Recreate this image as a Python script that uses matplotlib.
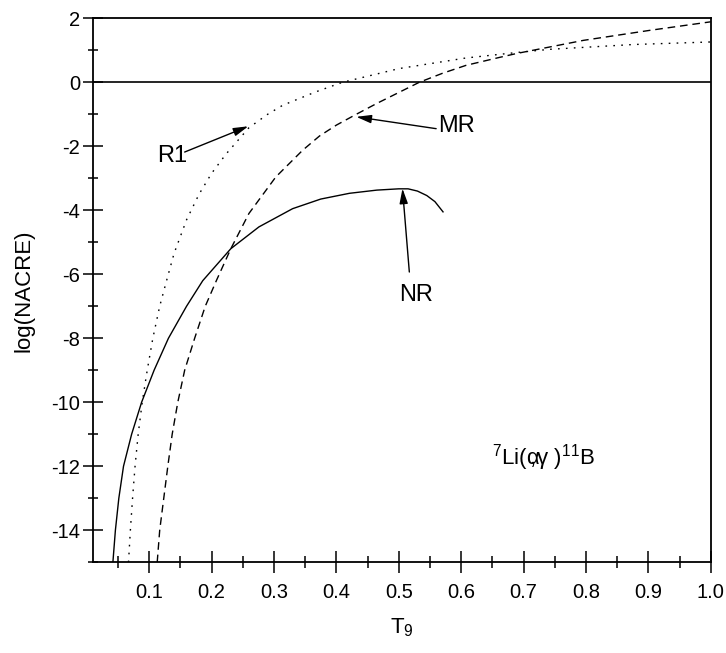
import numpy as np
import matplotlib
matplotlib.use("Agg")
import matplotlib.pyplot as plt
from matplotlib.ticker import MultipleLocator

plt.rcParams['font.family'] = ['Liberation Sans', 'DejaVu Sans']
plt.rcParams['mathtext.fontset'] = 'custom'
plt.rcParams['mathtext.rm'] = 'Liberation Sans'
plt.rcParams['mathtext.it'] = 'Liberation Sans'
plt.rcParams['axes.unicode_minus'] = False

# NR curve (solid)
nr_t9 = [0.042, 0.046, 0.0515, 0.059, 0.072, 0.088, 0.108, 0.131, 0.160, 0.186,
         0.231, 0.276, 0.330, 0.375, 0.421, 0.465, 0.500, 0.515, 0.530, 0.545, 0.558, 0.571]
nr_log = [-15.0, -14.0, -13.0, -12.0, -11.0, -10.0, -9.0, -8.0, -7.0, -6.2,
          -5.2, -4.52, -3.95, -3.65, -3.47, -3.37, -3.33, -3.33, -3.40, -3.54, -3.73, -4.05]

# R1 curve (dotted)
r1_t9 = [0.067, 0.070, 0.0735, 0.0775, 0.0825, 0.089, 0.097, 0.106, 0.117, 0.128,
         0.140, 0.160, 0.180, 0.200, 0.223, 0.260, 0.290, 0.314, 0.367, 0.410,
         0.501, 0.608, 0.689, 0.742, 0.876, 1.0]
r1_log = [-15.0, -14.0, -13.0, -12.0, -11.0, -10.0, -9.0, -8.0, -7.0, -6.2,
          -5.35, -4.3, -3.5, -2.85, -2.25, -1.42, -1.0, -0.72, -0.30, 0.0,
          0.43, 0.76, 0.93, 1.03, 1.18, 1.26]

# MR curve (dashed)
mr_t9 = [0.113, 0.117, 0.130, 0.137, 0.146, 0.157, 0.173, 0.190, 0.208, 0.231,
         0.260, 0.303, 0.346, 0.373, 0.400, 0.432, 0.465, 0.500, 0.533, 0.570,
         0.608, 0.662, 0.689, 0.796, 0.903, 1.0]
mr_log = [-15.0, -14.0, -12.0, -11.0, -10.0, -9.0, -8.0, -7.0, -6.19, -5.2,
          -4.10, -2.96, -2.125, -1.68, -1.34, -1.00, -0.66, -0.32, 0.0, 0.28,
          0.53, 0.78, 0.90, 1.31, 1.625, 1.89]

x_ticks = [0.1, 0.2, 0.3, 0.4, 0.5, 0.6, 0.7, 0.8, 0.9, 1.0]
y_ticks = [-14, -12, -10, -8, -6, -4, -2, 0, 2]

fig = plt.figure(figsize=(7.26, 6.53), dpi=100)
ax = fig.add_axes([0.128, 0.139, 0.851, 0.833])

ax.plot(nr_t9, nr_log, color='k', lw=1.0)
ax.plot(r1_t9, r1_log, color='k', lw=1.0, linestyle=(0, (1.2, 4.5)))
ax.plot(mr_t9, mr_log, color='k', lw=1.0, linestyle=(0, (5.5, 3.5)))
ax.axhline(0, color='k', lw=1.2)

ax.set_xlim(0.01, 1.0)
ax.set_ylim(-15, 2)
ax.set_xticks(x_ticks)
ax.set_xticklabels(['%.1f' % v for v in x_ticks])
ax.set_yticks(y_ticks)
ax.xaxis.set_minor_locator(MultipleLocator(0.05))
ax.yaxis.set_minor_locator(MultipleLocator(1))

ax.tick_params(axis='x', which='major', direction='inout', length=16, width=1.1,
               labelsize=14.5, pad=7, top=False)
ax.tick_params(axis='x', which='minor', direction='inout', length=8.5, width=1.1, top=False)
ax.tick_params(axis='y', which='major', direction='inout', length=14.5, width=1.1,
               labelsize=14.5, pad=2, right=False)
ax.tick_params(axis='y', which='minor', direction='inout', length=7.2, width=1.1, right=False)
for s in ax.spines.values():
    s.set_linewidth(1.3)

ax.set_xlabel('T$_{9}$', fontsize=16, labelpad=10)
ax.set_ylabel('log(NACRE)', fontsize=16, labelpad=12)

arrow = dict(arrowstyle='-|>,head_length=0.9,head_width=0.25', lw=1.0, color='k',
             shrinkA=0, shrinkB=0)
ax.annotate('', xy=(0.259, -1.375), xytext=(0.157, -2.18), arrowprops=arrow)
ax.annotate('', xy=(0.432, -1.08), xytext=(0.560, -1.45), arrowprops=arrow)
ax.annotate('', xy=(0.506, -3.32), xytext=(0.517, -5.93), arrowprops=arrow)

ax.text(0.137, -2.31, 'R1', fontsize=17, ha='center', va='center')
ax.text(0.593, -1.37, 'MR', fontsize=17, ha='center', va='center')
ax.text(0.527, -6.66, 'NR', fontsize=17, ha='center', va='center')
ax.text(0.650, -11.95, r'$^{7}$Li($\alpha\!\!\!,\!\gamma$ )$^{11}$B', fontsize=16,
        ha='left', va='baseline')

fig.savefig('out.png', dpi=100)
